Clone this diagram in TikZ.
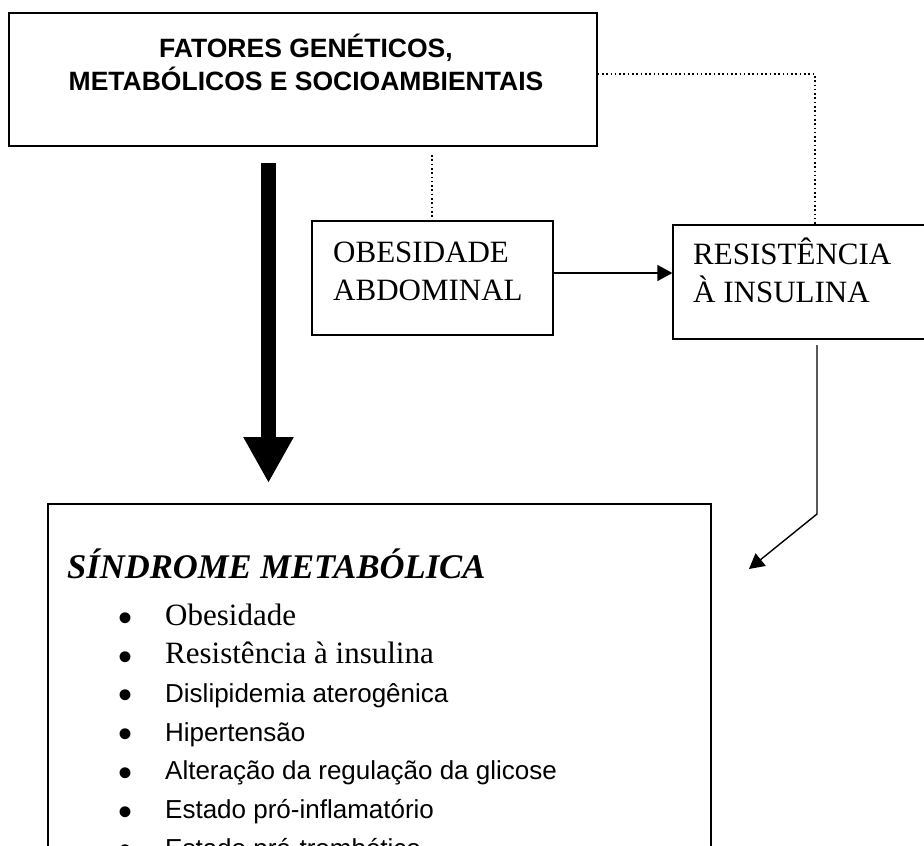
\documentclass[tikz,border=0pt]{standalone}
\usepackage{fontspec}
\setmainfont{Liberation Serif}
\setsansfont{Liberation Sans}
\usetikzlibrary{arrows.meta}
\usetikzlibrary{positioning}

\newcommand{\itemserif}{\rmfamily\fontsize{31}{38}\selectfont}
\newcommand{\itemsans}{\sffamily\fontsize{26}{32}\selectfont}

\tikzset{
	caixa/.style={draw, line width=1.3pt, inner sep=0pt},
	rotulo/.style={font=\fontsize{31}{38}\selectfont, align=left, anchor=base west, inner sep=0pt},
	pontilhado/.style={line width=1.4pt, dash pattern=on 1.6pt off 2.7pt},
	seta/.style={line width=1.4pt, -{Triangle[length=15pt,width=16pt]}},
	setagrossa/.style={line width=15pt, -{Triangle[length=46pt,width=47pt]}},
}

\begin{document}
\begin{tikzpicture}[x=1pt,y=-1pt]
	\useasboundingbox (0,0) rectangle (924,846);
	\clip (0,0) rectangle (924,846);

	% caixas
	\node[caixa, minimum width=588pt, minimum height=133pt] (fatores) at (303,79.5) {};
	\node[caixa, minimum width=241pt, minimum height=114pt] (obesidade) at (432.5,278) {};
	\node[caixa, minimum width=280pt, minimum height=114pt] (resistencia) at (813,282) {};
	\node[caixa, minimum width=663pt, minimum height=420pt] (sindrome) at (379.5,714) {};

	% textos (base = ultima linha)
	\node[font=\sffamily\bfseries\fontsize{26.5}{33}\selectfont, align=center, anchor=base, inner sep=0pt] (fatorestxt) at (306,90) {FATORES GENÉTICOS,\\METABÓLICOS E SOCIOAMBIENTAIS};
	\node[rotulo] (obesidadetxt) at (333,300) {OBESIDADE\\ABDOMINAL};
	\node[rotulo] (resistenciatxt) at (693,302) {RESISTÊNCIA\\À INSULINA};
	\node[font=\bfseries\itshape\fontsize{34.6}{40}\selectfont, anchor=base west, inner sep=0pt] (titulo) at (67,578) {SÍNDROME METABÓLICA};

	\foreach \texto/\fonte [count=\i from 0] in {Obesidade/\itemserif, Resistência à insulina/\itemserif, Dislipidemia aterogênica/\itemsans, Hipertensão/\itemsans, Alteração da regulação da glicose/\itemsans, Estado pró-inflamatório/\itemsans, Estado pró-trombótico/\itemsans}{
		\node[font=\sffamily\fontsize{40}{40}\selectfont, anchor=base, inner sep=0pt, yshift=-6.5pt] (marca\i) at (126,{625+38.7*\i}) {\textbullet};
		\node[font=\fonte, anchor=base west, inner sep=0pt] (item\i) at (165,{625+38.7*\i}) {\texto};
	}

	% ligacoes pontilhadas
	\coordinate (pa) at (815,74);
	\draw[pontilhado] (fatores.east |- pa) -- (pa) -- (pa |- resistencia.north);
	\coordinate (pb) at (432,155);
	\draw[pontilhado] (pb) -- (pb |- obesidade.north);

	% setas
	\coordinate (ga) at (268.5,163);
	\coordinate (gb) at (268.5,483);
	\draw[setagrossa] (ga) -- (gb);
	\draw[seta] ([yshift=5pt]obesidade.east) -- ([yshift=5pt]obesidade.east -| resistencia.west);
	\coordinate (ra) at (817,345);
	\coordinate (rb) at (817,514);
	\coordinate (rc) at (749,569);
	\draw[seta] (ra) -- (rb) -- (rc);
\end{tikzpicture}
\end{document}
